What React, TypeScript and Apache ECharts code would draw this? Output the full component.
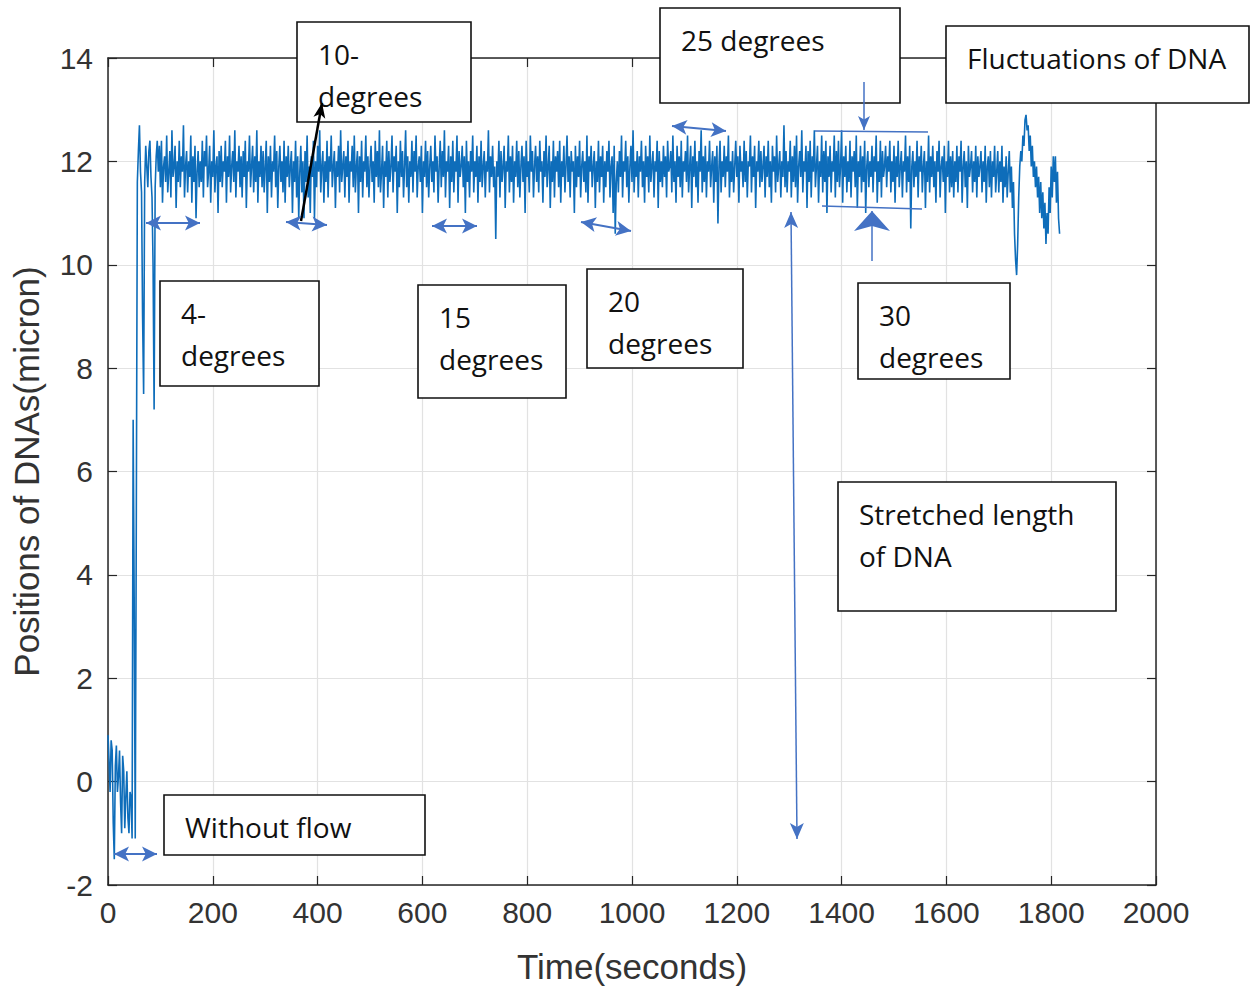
import React, { useEffect, useRef } from "react";
import * as echarts from "echarts";

// Sampling grid of the recorded trace
const T_START = 0;
const T_STEP = 2; // seconds between samples

// 0 - 94 s : without flow, then the flow is switched on
const POS_START: number[] = [
  0.9, 0.4, -0.2, 0.8, 0.6, -0.8, -1.5, 0.3, 0.7, -0.2, 0.1, 0.6, -0.4, -1.0, 0.5, 0.2, -0.9, -0.3, 0.2, -0.7, -1.0, -0.2, -0.3, -1.1,
  7.0, 3.5, -1.1, 5.0, 11.6, 12.2, 12.7, 11.8, 11.4, 9.0, 7.5, 11.6, 12.3, 11.9, 11.5, 12.2, 12.4, 11.7, 11.3, 10.0, 7.2, 11.5, 12.1, 12.4,
];

// 96 - 1694 s : stretched DNA fluctuating under 4-30 degree flow
const POS_STRETCHED: number[] = [
  11.8, 12.3, 11.5, 12.4, 11.2, 11.9, 12.1, 11.6, 12.5, 11.4, 11.8, 12.2, 11.3, 12.6, 11.7, 11.9, 12.3, 11.1, 12.0, 11.6,
  12.4, 11.5, 12.1, 11.8, 12.7, 11.3, 11.9, 12.2, 11.4, 12.0, 11.7, 12.5, 11.2, 12.1, 11.6, 12.3, 10.9, 11.8, 12.2, 11.5,
  12.0, 11.6, 12.4, 11.3, 12.2, 11.9, 12.5, 11.5, 11.8, 12.3, 11.2, 12.0, 11.7, 12.6, 11.4, 11.9, 12.1, 11.0, 12.2, 11.6,
  12.3, 11.5, 12.0, 11.8, 12.4, 11.2, 12.1, 11.7, 12.5, 11.4, 11.9, 12.2, 11.6, 12.6, 11.3, 12.0, 11.8, 12.3, 11.5, 12.1,
  11.3, 12.2, 11.7, 12.4, 11.1, 12.0, 11.8, 12.5, 11.5, 11.9, 12.3, 11.4, 12.1, 11.6, 12.6, 11.2, 12.0, 11.7, 12.3, 11.5,
  12.2, 11.4, 11.9, 12.4, 11.0, 12.1, 11.6, 12.3, 11.3, 12.0, 11.8, 12.5, 11.5, 12.2, 11.1, 11.9, 12.3, 11.6, 12.0, 11.4,
  12.4, 11.2, 12.1, 11.7, 12.3, 11.5, 11.9, 12.2, 11.0, 12.0, 11.6, 12.4, 11.3, 12.1, 10.9, 11.8, 12.3, 11.4, 12.0, 10.9,
  12.2, 11.6, 12.5, 11.3, 11.9, 11.0, 12.1, 11.7, 12.4, 10.9, 12.0, 11.5, 12.3, 11.8, 12.6, 11.4, 11.9, 12.2, 11.2, 12.0,
  11.6, 12.4, 11.3, 12.1, 11.8, 12.5, 11.5, 11.9, 12.2, 11.1, 12.0, 11.7, 12.3, 11.4, 12.6, 11.6, 11.9, 12.2, 11.3, 12.1,
  11.7, 12.4, 11.2, 12.0, 11.8, 12.3, 11.5, 12.5, 11.4, 11.9, 12.2, 11.0, 12.1, 11.6, 12.4, 11.3, 12.0, 11.8, 12.5, 11.5,
  12.1, 11.3, 11.9, 12.3, 11.6, 12.0, 11.2, 12.4, 11.7, 12.2, 11.5, 12.6, 11.4, 11.8, 12.3, 11.1, 12.0, 11.7, 12.4, 11.3,
  12.2, 11.6, 11.9, 12.5, 11.4, 12.1, 11.8, 12.3, 11.0, 12.0, 11.5, 12.4, 11.7, 12.2, 11.3, 11.9, 12.6, 11.5, 12.1, 11.2,
  12.0, 11.7, 12.4, 11.4, 12.2, 11.8, 12.5, 11.3, 11.9, 12.1, 11.6, 12.3, 11.0, 12.0, 11.7, 12.4, 11.5, 12.2, 11.3, 11.9,
  12.3, 11.6, 12.0, 11.4, 12.5, 11.8, 12.1, 11.2, 11.9, 12.4, 11.5, 12.2, 11.7, 12.6, 11.3, 12.0, 11.8, 12.3, 11.1, 12.1,
  11.6, 12.4, 11.4, 12.0, 11.8, 12.5, 11.2, 12.2, 11.7, 11.9, 12.3, 11.5, 12.1, 11.0, 12.4, 11.6, 12.0, 11.3, 12.2, 11.8,
  12.5, 11.4, 12.0, 11.7, 12.3, 11.2, 12.1, 11.6, 12.4, 11.5, 11.9, 12.2, 11.3, 12.0, 11.8, 12.6, 11.4, 12.1, 11.7, 12.3,
  11.5, 11.9, 10.5, 12.0, 11.7, 12.4, 11.3, 12.2, 11.6, 11.9, 12.3, 11.1, 12.0, 11.8, 12.5, 11.4, 12.1, 11.6, 12.3, 11.2,
  12.0, 11.7, 12.4, 11.5, 12.2, 11.3, 11.9, 12.3, 11.6, 12.1, 11.0, 12.4, 11.7, 12.0, 11.4, 12.5, 11.8, 12.2, 11.3, 11.9,
  12.3, 11.6, 12.1, 11.4, 12.4, 11.8, 12.0, 11.2, 12.2, 11.7, 12.5, 11.5, 11.9, 12.3, 11.1, 12.0, 11.6, 12.4, 11.3, 12.1,
  11.8, 12.2, 11.5, 12.4, 11.2, 12.0, 11.7, 12.3, 11.4, 11.9, 12.5, 11.6, 12.1, 11.3, 12.2, 11.8, 12.0, 11.0, 12.3, 11.5,
  12.1, 11.7, 12.4, 11.3, 11.9, 12.2, 11.6, 12.0, 11.4, 12.5, 11.2, 12.1, 11.8, 12.3, 11.5, 11.9, 12.2, 11.1, 12.0, 11.6,
  12.4, 11.4, 12.1, 11.7, 12.3, 11.2, 12.0, 11.5, 12.2, 11.8, 12.4, 11.3, 11.9, 12.1, 11.0, 12.3, 10.6, 11.6, 12.0, 11.4,
  12.2, 11.7, 12.5, 11.3, 12.0, 11.8, 12.4, 11.5, 12.1, 11.2, 11.9, 12.3, 11.6, 12.6, 11.4, 12.0, 11.7, 12.2, 11.3, 12.1,
  11.8, 12.4, 11.5, 12.0, 11.2, 12.3, 11.7, 12.1, 11.4, 12.5, 11.6, 11.9, 12.2, 11.3, 12.0, 11.8, 12.4, 11.1, 12.2, 11.6,
  12.0, 11.5, 12.3, 11.7, 12.1, 11.3, 12.4, 11.8, 11.9, 12.2, 11.4, 12.5, 11.6, 12.0, 11.2, 12.3, 11.7, 12.1, 11.5, 12.4,
  11.3, 12.0, 11.8, 12.2, 11.6, 12.5, 11.4, 11.9, 12.3, 11.1, 12.1, 11.7, 12.4, 11.5, 12.0, 11.2, 12.2, 11.8, 12.6, 11.4,
  12.1, 11.6, 12.3, 11.3, 12.0, 11.8, 12.4, 11.5, 11.9, 12.2, 11.2, 12.1, 11.6, 12.3, 10.8, 11.9, 12.4, 11.4, 12.0, 11.7,
  12.3, 11.5, 12.1, 11.8, 12.5, 11.3, 12.0, 11.6, 12.2, 11.4, 11.9, 12.4, 11.7, 12.1, 11.2, 12.3, 11.8, 12.0, 11.5, 12.4,
  11.6, 12.2, 11.3, 12.0, 11.9, 12.5, 11.4, 12.1, 11.7, 12.3, 11.1, 12.0, 11.8, 12.4, 11.5, 12.2, 11.6, 11.9, 12.3, 11.3,
  12.1, 11.7, 12.4, 11.5, 12.0, 11.2, 12.3, 11.8, 12.1, 11.4, 12.5, 11.6, 11.9, 12.2, 11.3, 12.0, 11.7, 12.7, 11.5, 12.2,
  11.4, 12.0, 11.8, 12.4, 11.3, 12.1, 11.6, 12.3, 11.5, 12.5, 11.2, 11.9, 12.2, 11.7, 12.6, 11.4, 12.0, 11.8, 12.3, 11.1,
  12.2, 11.6, 12.4, 11.3, 12.1, 11.8, 12.6, 11.5, 11.9, 12.3, 11.2, 12.0, 11.7, 12.5, 11.4, 12.2, 11.6, 12.4, 11.0, 12.1,
  11.7, 12.3, 11.4, 12.0, 11.8, 12.5, 11.3, 12.2, 11.6, 12.4, 11.5, 11.9, 12.6, 11.2, 12.1, 11.7, 12.3, 11.4, 12.0, 11.6,
  12.4, 11.3, 12.1, 11.8, 12.2, 11.5, 12.5, 11.1, 12.0, 11.7, 12.3, 11.4, 12.1, 11.6, 12.4, 11.0, 11.9, 12.2, 11.5, 12.0,
  11.7, 12.3, 11.4, 12.1, 11.8, 12.5, 11.2, 12.0, 11.6, 12.4, 11.3, 12.2, 11.7, 11.9, 12.3, 11.5, 12.1, 11.8, 12.4, 11.4,
  12.0, 11.6, 12.3, 11.2, 12.1, 11.7, 12.4, 11.5, 11.9, 12.2, 11.3, 12.0, 11.8, 12.5, 11.4, 12.1, 11.6, 12.3, 10.7, 11.9,
  12.2, 11.5, 12.0, 11.7, 12.4, 11.3, 12.1, 11.8, 12.3, 11.4, 11.9, 12.2, 11.1, 12.0, 11.6, 12.5, 11.4, 12.1, 11.7, 12.3,
  11.5, 12.0, 11.2, 12.2, 11.8, 12.4, 11.3, 11.9, 12.1, 11.6, 12.3, 11.0, 12.0, 11.7, 12.4, 11.4, 12.1, 11.5, 12.2, 11.3,
  12.0, 11.6, 12.3, 11.4, 12.1, 11.8, 12.4, 11.2, 11.9, 12.2, 11.5, 12.0, 11.1, 12.3, 11.7, 11.9, 12.2, 11.4, 12.0, 11.6,
  12.3, 11.3, 12.1, 11.7, 11.9, 12.2, 11.4, 12.0, 11.6, 12.3, 11.2, 11.9, 12.1, 11.5, 12.2, 11.3, 12.0, 11.7, 12.3, 11.4,
];

// 1696 - 1816 s : large fluctuations of the DNA
const POS_END: number[] = [
  11.8, 12.2, 11.4, 12.0, 11.6, 12.3, 11.2, 11.9, 11.5, 12.1, 11.3, 11.8, 12.2, 11.4, 11.9, 11.1, 11.6, 10.6, 10.1, 9.8,
  10.4, 11.3, 11.9, 12.2, 12.0, 12.5, 12.3, 12.8, 12.9, 12.6, 12.7, 12.2, 12.5, 11.9, 12.3, 11.7, 12.0, 11.5, 11.9, 11.3,
  11.7, 11.0, 11.6, 10.9, 11.4, 10.7, 11.2, 10.4, 11.0, 10.6, 11.5, 11.0, 11.9, 11.3, 12.1, 11.6, 12.1, 11.2, 11.8, 10.9,
  10.6,
];

const X_TICKS = { min: 0, max: 2000, step: 200 };
const Y_TICKS = { min: -2, max: 14, step: 2 };
const X_TITLE = "Time(seconds)";
const Y_TITLE = "Positions of DNAs(micron)";

// Annotation boxes (text and pixel layout)
const BOX_LABELS = [
  { text: "10-\ndegrees", x: 297, y: 22, w: 174, h: 100 },
  { text: "25 degrees", x: 660, y: 8, w: 240, h: 95 },
  { text: "Fluctuations of DNA", x: 946, y: 26, w: 303, h: 77 },
  { text: "4-\ndegrees", x: 160, y: 281, w: 159, h: 105 },
  { text: "15\ndegrees", x: 418, y: 285, w: 148, h: 113 },
  { text: "20\ndegrees", x: 587, y: 269, w: 156, h: 99 },
  { text: "30\ndegrees", x: 858, y: 283, w: 152, h: 96 },
  { text: "Stretched length\nof DNA", x: 838, y: 482, w: 278, h: 129 },
  { text: "Without flow", x: 164, y: 795, w: 261, h: 60 },
];

const ARROW_BLUE = "#4472C4";

type Pt = [number, number];

function head(tip: Pt, from: Pt, len: number, half: number, color: string) {
  const dx = tip[0] - from[0];
  const dy = tip[1] - from[1];
  const L = Math.hypot(dx, dy) || 1;
  const ux = dx / L, uy = dy / L;
  const bx = tip[0] - ux * len, by = tip[1] - uy * len;
  const px = -uy, py = ux;
  const nx = tip[0] - ux * len * 0.75, ny = tip[1] - uy * len * 0.75;
  return {
    type: "polygon",
    z: 110,
    shape: {
      points: [
        tip,
        [bx + px * half, by + py * half],
        [nx, ny],
        [bx - px * half, by - py * half],
      ],
    },
    style: { fill: color },
  };
}

function arrow(a: Pt, b: Pt, opts: { both?: boolean; len?: number; half?: number; width?: number; color?: string }) {
  const len = opts.len ?? 15;
  const half = opts.half ?? 7.5;
  const color = opts.color ?? ARROW_BLUE;
  const width = opts.width ?? 2;
  const els: any[] = [
    {
      type: "line",
      z: 109,
      shape: { x1: a[0], y1: a[1], x2: b[0], y2: b[1] },
      style: { stroke: color, lineWidth: width },
    },
    head(b, a, len, half, color),
  ];
  if (opts.both) els.push(head(a, b, len, half, color));
  return els;
}

export default function App() {
  const ref = useRef<HTMLDivElement>(null);

  useEffect(() => {
    if (!ref.current) return;
    const chart = echarts.init(ref.current, undefined, { renderer: "svg" });
    const values = [...POS_START, ...POS_STRETCHED, ...POS_END];
    const data = values.map((v, i) => [T_START + i * T_STEP, v]);

    const axisLine = { show: true, onZero: false, lineStyle: { color: "#262626", width: 1.5 } };
    const tick = { show: true, inside: true, length: 9, lineStyle: { color: "#262626", width: 1.2 } };
    const labelFont = "Liberation Sans";
    const plain = (v: number) => String(v);

    const graphics: any[] = [];
    BOX_LABELS.forEach((b) => {
      graphics.push({
        type: "rect",
        z: 100,
        shape: { x: b.x, y: b.y, width: b.w, height: b.h },
        style: { fill: "#ffffff", stroke: "#111", lineWidth: 1.6 },
      });
      graphics.push({
        type: "text",
        z: 101,
        x: b.x + 21,
        y: b.y + 11,
        style: {
          text: b.text,
          fontFamily: "Open Sans",
          fontSize: 28,
          lineHeight: 42,
          fill: "#111",
          align: "left",
          verticalAlign: "top",
        },
      });
    });

    // double arrows marking the flow-angle changes
    graphics.push(...arrow([146, 223], [200, 223], { both: true }));
    graphics.push(...arrow([286, 222], [327, 225], { both: true }));
    graphics.push(...arrow([432, 226], [477, 226], { both: true }));
    graphics.push(...arrow([581, 222], [631, 231], { both: true }));
    graphics.push(...arrow([672, 126], [726, 131], { both: true }));
    graphics.push(...arrow([114, 854], [157, 854], { both: true }));
    // 10-degrees pointer
    graphics.push(...arrow([301, 221], [322, 103], { len: 15, half: 6, width: 2.5, color: "#000" }));
    // stretched length
    graphics.push(...arrow([797, 839], [791, 212], { both: true, len: 16, half: 7, width: 1.5 }));
    // fluctuation band limits
    graphics.push({ type: "line", z: 109, shape: { x1: 815, y1: 131, x2: 928, y2: 132 }, style: { stroke: ARROW_BLUE, lineWidth: 1.5 } });
    graphics.push({ type: "line", z: 109, shape: { x1: 822, y1: 206, x2: 922, y2: 209 }, style: { stroke: ARROW_BLUE, lineWidth: 1.5 } });
    graphics.push(...arrow([864, 82], [864, 130], { len: 14, half: 6, width: 1.5 }));
    graphics.push(...arrow([872, 261], [872, 211], { len: 20, half: 18, width: 1.5 }));

    chart.setOption({
      animation: false,
      backgroundColor: "#ffffff",
      grid: { left: 108, top: 58, width: 1048, height: 827, show: false },
      xAxis: [
        {
          type: "value",
          min: X_TICKS.min,
          max: X_TICKS.max,
          interval: X_TICKS.step,
          position: "bottom",
          axisLine,
          axisTick: tick,
          axisLabel: { fontSize: 30, color: "#333", fontFamily: labelFont, margin: 12, formatter: plain },
          splitLine: { show: true, lineStyle: { color: "#e2e2e2", width: 1.2 } },
          name: X_TITLE,
          nameLocation: "middle",
          nameGap: 64,
          nameTextStyle: { fontSize: 35, color: "#333", fontFamily: labelFont },
        },
        {
          type: "value",
          min: X_TICKS.min,
          max: X_TICKS.max,
          interval: X_TICKS.step,
          position: "top",
          axisLine,
          axisTick: tick,
          axisLabel: { show: false },
          splitLine: { show: false },
        },
      ],
      yAxis: [
        {
          type: "value",
          min: Y_TICKS.min,
          max: Y_TICKS.max,
          interval: Y_TICKS.step,
          position: "left",
          axisLine,
          axisTick: tick,
          axisLabel: { fontSize: 30, color: "#333", fontFamily: labelFont, margin: 15, formatter: plain },
          splitLine: { show: true, lineStyle: { color: "#e2e2e2", width: 1.2 } },
          name: Y_TITLE,
          nameLocation: "middle",
          nameGap: 64,
          nameTextStyle: { fontSize: 35, color: "#333", fontFamily: labelFont },
        },
        {
          type: "value",
          min: Y_TICKS.min,
          max: Y_TICKS.max,
          interval: Y_TICKS.step,
          position: "right",
          axisLine,
          axisTick: tick,
          axisLabel: { show: false },
          splitLine: { show: false },
        },
      ],
      series: [
        {
          type: "line",
          xAxisIndex: 0,
          yAxisIndex: 0,
          data,
          showSymbol: false,
          symbol: "none",
          lineStyle: { color: "#0E6DBA", width: 1.6 },
          z: 5,
        },
      ],
      graphic: graphics,
    });

    return () => chart.dispose();
  }, []);

  return (
    <div
      ref={ref}
      style={{ position: "absolute", left: 0, top: 0, width: 1256, height: 989, background: "#fff" }}
    />
  );
}
